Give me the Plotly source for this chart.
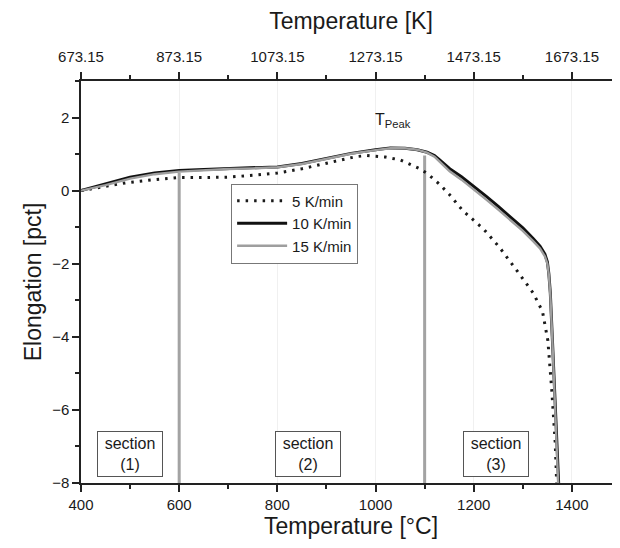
import plotly.graph_objects as go

# ---- data ----
temp_5 = [400, 450, 494, 550, 600, 650, 700, 750, 800, 850, 900, 934, 960, 982, 1020, 1050,
          1075, 1090, 1105, 1117, 1130, 1150, 1178, 1220, 1253, 1294, 1321, 1340, 1351, 1359, 1366, 1369]
elong_5 = [0, 0.12, 0.22, 0.30, 0.36, 0.36, 0.37, 0.42, 0.48, 0.60, 0.75, 0.87, 0.93, 0.96, 0.92, 0.84,
           0.70, 0.60, 0.47, 0.33, 0.18, -0.10, -0.55, -1.05, -1.56, -2.30, -2.80, -3.30, -4.10, -5.46, -6.90, -8.0]

temp_10 = [400, 450, 500, 550, 600, 650, 700, 750, 800, 850, 900, 950, 1000, 1030, 1060, 1085, 1105,
           1120, 1130, 1140, 1151, 1175, 1200, 1225, 1250, 1275, 1300, 1321, 1335, 1345, 1350, 1353,
           1356, 1360, 1364, 1368, 1373]
elong_10 = [0, 0.18, 0.37, 0.48, 0.55, 0.58, 0.60, 0.62, 0.65, 0.74, 0.88, 1.02, 1.12, 1.17, 1.16, 1.12, 1.05,
            0.96, 0.85, 0.73, 0.60, 0.38, 0.12, -0.15, -0.43, -0.72, -1.02, -1.31, -1.52, -1.74, -1.95, -2.27,
            -2.80, -4.00, -5.30, -6.60, -8.0]

temp_15 = [400, 450, 500, 550, 600, 650, 700, 750, 800, 850, 900, 950, 1000, 1030, 1060, 1085, 1105,
           1120, 1130, 1140, 1151, 1175, 1200, 1225, 1250, 1275, 1300, 1321, 1335, 1345, 1350, 1353,
           1356, 1360, 1364, 1368, 1372]
elong_15 = [0, 0.15, 0.33, 0.45, 0.52, 0.56, 0.59, 0.61, 0.64, 0.73, 0.87, 1.01, 1.11, 1.16, 1.16, 1.12, 1.04,
            0.93, 0.80, 0.66, 0.53, 0.30, 0.04, -0.24, -0.52, -0.81, -1.10, -1.38, -1.58, -1.80, -2.00, -2.30,
            -2.85, -4.05, -5.35, -6.65, -8.0]

section_bounds = [600, 1100]
section_tops = [0.49, 0.96]
section_labels = ["section<br>(1)", "section<br>(2)", "section<br>(3)"]
section_x = [500, 862, 1245]
section_y = [-7.2, -7.2, -7.2]

x_ticks_c = [400, 600, 800, 1000, 1200, 1400]
x_ticks_k = [673.15, 873.15, 1073.15, 1273.15, 1473.15, 1673.15]
x_ticks_k_text = ["673.15", "873.15", "1073.15", "1273.15", "1473.15", "1673.15"]
y_ticks = [-8, -6, -4, -2, 0, 2]

FONT = "Arial, Liberation Sans, Helvetica, sans-serif"
TXT = "#1a1a1a"

fig = go.Figure()

# section boundary lines
for xb, yt in zip(section_bounds, section_tops):
    fig.add_trace(go.Scatter(x=[xb, xb], y=[-8, yt], mode="lines",
                             line=dict(color="#a3a3a3", width=3), showlegend=False, hoverinfo="skip"))

fig.add_trace(go.Scatter(x=temp_5, y=elong_5, mode="lines", name="5 K/min",
                         line=dict(color="#1a1a1a", width=3, dash="2.5px,6px")))
fig.add_trace(go.Scatter(x=temp_10, y=elong_10, mode="lines", name="10 K/min",
                         line=dict(color="#111111", width=3)))
fig.add_trace(go.Scatter(x=temp_15, y=elong_15, mode="lines", name="15 K/min",
                         line=dict(color="#9e9e9e", width=2.4)))

# invisible trace for the Kelvin axis
fig.add_trace(go.Scatter(x=[x_ticks_k[0]], y=[-100], xaxis="x2", mode="markers",
                         marker=dict(opacity=0), showlegend=False, hoverinfo="skip"))

for txt, xs, ys in zip(section_labels, section_x, section_y):
    fig.add_annotation(x=xs, y=ys, text=txt, showarrow=False, xref="x", yref="y",
                       font=dict(family=FONT, size=16, color=TXT),
                       bordercolor="#555555", borderwidth=1, borderpad=3,
                       bgcolor="white", width=58)

fig.add_annotation(x=1035, y=1.92, text="T<sub>Peak</sub>", showarrow=False,
                   font=dict(family=FONT, size=16, color=TXT))

axis_common = dict(showline=True, linecolor="#222222", linewidth=1.5, ticks="outside",
                   tickcolor="#222222", tickwidth=1.5, ticklen=7, automargin=False,
                   tickfont=dict(family=FONT, size=15, color=TXT), zeroline=False)

fig.update_layout(
    width=620, height=548,
    margin=dict(l=73, r=7, t=73, b=73),
    paper_bgcolor="white", plot_bgcolor="white",
    font=dict(family=FONT, color=TXT),
    xaxis=dict(range=[400, 1500], tickvals=x_ticks_c, showgrid=True, gridcolor="#f0f0f0",
               minor=dict(dtick=100, tick0=400, ticks="outside", ticklen=4, tickcolor="#222222", showgrid=False),
               title=dict(text="Temperature [°C]", font=dict(family=FONT, size=23, color=TXT), standoff=4),
               **axis_common),
    xaxis2=dict(range=[673.15, 1773.15], overlaying="x", side="top", anchor="y",
                tickvals=x_ticks_k, ticktext=x_ticks_k_text, showgrid=False, ticklabelstandoff=4,
                minor=dict(tickvals=[773.15, 973.15, 1173.15, 1373.15, 1573.15], ticks="outside",
                           ticklen=4, tickcolor="#222222", showgrid=False),
                title=dict(text="Temperature [K]", font=dict(family=FONT, size=23, color=TXT), standoff=14),
                **axis_common),
    yaxis=dict(range=[-8, 3], tickvals=y_ticks, showgrid=False,
               minor=dict(dtick=1, tick0=-8, ticks="outside", ticklen=4, tickcolor="#222222", showgrid=False),
               title=dict(text="Elongation [pct]", font=dict(family=FONT, size=23, color=TXT), standoff=4),
               **axis_common),
    legend=dict(x=0.278, y=0.745, xanchor="left", yanchor="top",
                bordercolor="#777777", borderwidth=1, bgcolor="white", itemwidth=50,
                font=dict(family=FONT, size=15, color=TXT), tracegroupgap=0),
    showlegend=True,
)

fig.write_html("out.html")
